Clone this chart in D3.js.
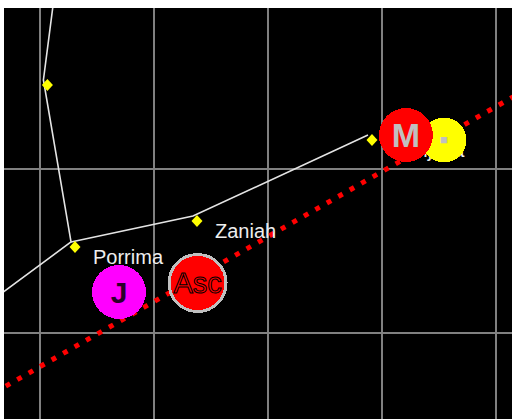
<!DOCTYPE html>
<html>
<head>
<meta charset="utf-8">
<script src="https://cdn.jsdelivr.net/npm/d3@7"></script>
<style>
  body { margin: 0; background: #fff; }
  svg { display: block; }
</style>
</head>
<body>
<div id="chart"></div>
<script>
// Chart coordinates (grid units), grid every 10 units
const gridX = [0, 10, 20, 30, 40];
const gridY = [0, 10, 20];

// Constellation line vertices (x, y in grid units)
const lineXs = [-4.4, 2.72, 0.3, 1.39];
const lineYs = [1.9, 5.55, 15.43, 21.3];
const line2Xs = [2.72, 13.42, 28.77];
const line2Ys = [5.55, 7.13, 12.07];

// Stars
const starNames = ['', 'Porrima', 'Zaniah', 'Zavijava'];
const starXs = [0.3, 2.72, 13.42, 28.77];
const starYs = [15.43, 5.55, 7.13, 12.07];

// Ecliptic (two points, straight segment)
const eclXs = [-3.0, 41.5];
const eclYs = [-3.24, 14.4];

// Planets / points
const bodyLabels = ['J', 'Asc', '\u25A0', 'M'];
const bodyXs = [6.93, 13.82, 35.44, 32.1];
const bodyYs = [2.5, 3.05, 11.77, 12.07];

const W = 512, H = 419;
const svg = d3.select('#chart').append('svg')
  .attr('width', W)
  .attr('height', H);

const frame = { left: 4, top: 8, right: 512, bottom: 419 };

const x = d3.scaleLinear().domain([0, 40]).range([40, 496]);
const y = d3.scaleLinear().domain([0, 20]).range([333, 5]);

svg.append('defs').append('clipPath').attr('id', 'clip')
  .append('rect')
  .attr('x', frame.left).attr('y', frame.top)
  .attr('width', frame.right - frame.left)
  .attr('height', frame.bottom - frame.top);

svg.append('rect')
  .attr('x', frame.left).attr('y', frame.top)
  .attr('width', frame.right - frame.left)
  .attr('height', frame.bottom - frame.top)
  .attr('fill', '#000');

const g = svg.append('g').attr('clip-path', 'url(#clip)');

// grid
g.selectAll('.vx').data(gridX).enter().append('line')
  .attr('x1', d => x(d)).attr('x2', d => x(d))
  .attr('y1', frame.top).attr('y2', frame.bottom)
  .attr('stroke', '#808080').attr('stroke-width', 2);
g.selectAll('.hy').data(gridY).enter().append('line')
  .attr('y1', d => y(d)).attr('y2', d => y(d))
  .attr('x1', frame.left).attr('x2', frame.right)
  .attr('stroke', '#808080').attr('stroke-width', 2);

// constellation lines
const lineGen = d3.line().x(d => x(d[0])).y(d => y(d[1]));
[[lineXs, lineYs], [line2Xs, line2Ys]].forEach(([xs, ys]) => {
  g.append('path')
    .attr('d', lineGen(xs.map((v, i) => [v, ys[i]])))
    .attr('fill', 'none')
    .attr('stroke', '#e4e4e4')
    .attr('stroke-width', 1.6);
});

// ecliptic
g.append('path')
  .attr('d', lineGen(eclXs.map((v, i) => [v, eclYs[i]])))
  .attr('fill', 'none')
  .attr('stroke', '#ff0000')
  .attr('stroke-width', 5)
  .attr('stroke-dasharray', '5 8.2');

// star markers (drawn slightly offset from the line vertex)
const stars = starNames.map((n, i) => ({ name: n, x: starXs[i], y: starYs[i] }));
g.selectAll('.star').data(stars).enter().append('path')
  .attr('d', 'M0,-6L5.5,0L0,6L-5.5,0Z')
  .attr('transform', d => `translate(${x(d.x) + 4},${y(d.y) + 5})`)
  .attr('fill', '#ffff00');

// star labels
g.selectAll('.slabel').data(stars.filter(d => d.name)).enter().append('text')
  .attr('x', d => x(d.x) + 22)
  .attr('y', d => y(d.y) + 22)
  .attr('fill', '#eeeeee')
  .style('font-family', '"Liberation Sans", Arial, sans-serif')
  .style('font-size', '20px')
  .text(d => d.name);

// planets
const bodyStyle = {
  'J': { r: 27, fill: '#ff00ff', stroke: 'none', text: '#2a002a', size: 30, weight: 'bold' },
  'Asc': { r: 28.5, fill: '#ff0000', stroke: '#c0c0c0', text: '#ff0000', size: 29, weight: 'normal' },
  '\u25A0': { r: 22.5, fill: '#ffff00', stroke: 'none', text: '#c0c0c0', size: 13, weight: 'normal' },
  'M': { r: 27, fill: '#ff0000', stroke: 'none', text: '#c0c0c0', size: 34, weight: 'bold' }
};
const bodies = bodyLabels.map((l, i) => ({ label: l, x: bodyXs[i], y: bodyYs[i] }));
const bg = g.selectAll('.body').data(bodies).enter().append('g')
  .attr('transform', d => `translate(${x(d.x)},${y(d.y)})`);
bg.append('circle')
  .attr('r', d => bodyStyle[d.label].r)
  .attr('fill', d => bodyStyle[d.label].fill)
  .attr('stroke', d => bodyStyle[d.label].stroke)
  .attr('stroke-width', 3)
  .attr('shape-rendering', 'crispEdges');
bg.append('text')
  .attr('text-anchor', 'middle')
  .attr('dominant-baseline', 'central')
  .attr('fill', d => bodyStyle[d.label].text)
  .attr('stroke', d => d.label === 'Asc' ? '#000' : 'none')
  .attr('stroke-width', 1)
  .style('font-family', '"Liberation Sans", Arial, sans-serif')
  .style('font-size', d => bodyStyle[d.label].size + 'px')
  .style('font-weight', d => bodyStyle[d.label].weight)
  .text(d => d.label);
</script>
</body>
</html>
